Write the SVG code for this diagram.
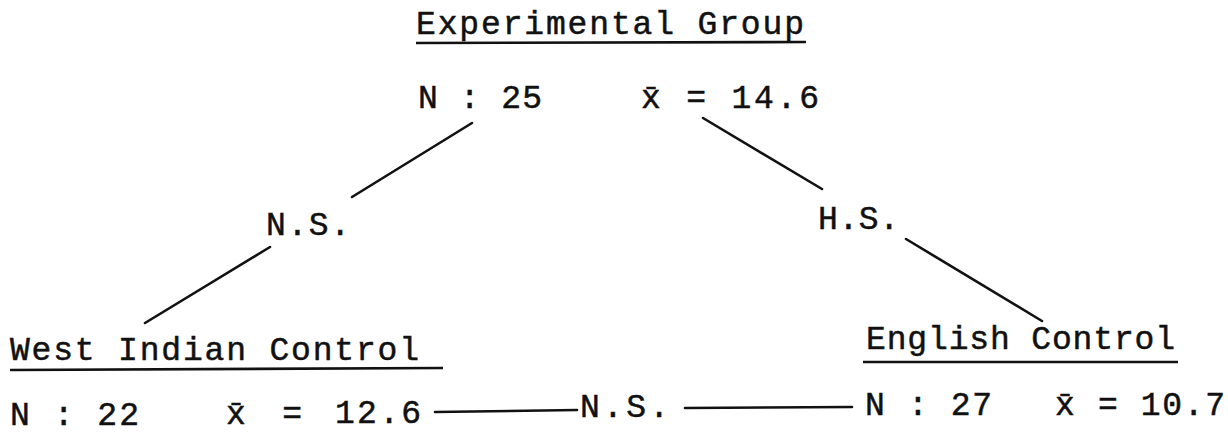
<svg xmlns="http://www.w3.org/2000/svg" width="1228" height="433" viewBox="0 0 1228 433">
  <style>
    .t { font-family: "Liberation Mono", "DejaVu Sans Mono", monospace; font-size: 33px; fill: #111; stroke: #111; stroke-width: 0.5; }
    .u { stroke: #111; stroke-width: 2.6; fill: none; }
    .c { stroke: #111; stroke-width: 2.6; fill: none; stroke-linecap: round; }
  </style>
  <rect width="1228" height="433" fill="#ffffff"/>

  <g id="node-experimental">
    <text class="t" x="416" y="34" textLength="388">Experimental Group</text>
    <line class="u" x1="416" y1="43" x2="806" y2="42"/>
    <text class="t" x="418" y="108" textLength="124">N : 25</text>
    <text class="t" x="641" y="108" textLength="178">x̄ = 14.6</text>
  </g>

  <g id="node-west-indian">
    <text class="t" x="10" y="360" textLength="409">West Indian Control</text>
    <line class="u" x1="10" y1="370" x2="443" y2="368"/>
    <text class="t" x="10" y="425" textLength="129">N : 22</text>
    <text class="t" x="226" y="424" textLength="76">x̄ =</text>
    <text class="t" x="335" y="423" textLength="86">12.6</text>
  </g>

  <g id="node-english">
    <text class="t" x="866" y="349" textLength="309">English Control</text>
    <line class="u" x1="863" y1="362" x2="1178" y2="362"/>
    <text class="t" x="865" y="415" textLength="127">N : 27</text>
    <text class="t" x="1055" y="415" textLength="170">x̄ = 10.7</text>
  </g>

  <g id="connectors">
    <line class="c" x1="472" y1="123" x2="352" y2="197"/>
    <line class="c" x1="270" y1="247" x2="145" y2="323"/>
    <text class="t" x="266" y="235" textLength="84">N.S.</text>

    <line class="c" x1="703" y1="118" x2="822" y2="189"/>
    <line class="c" x1="906" y1="239" x2="1042" y2="321"/>
    <text class="t" x="818" y="229" textLength="81">H.S.</text>

    <line class="c" x1="435" y1="412" x2="577" y2="410"/>
    <line class="c" x1="685" y1="408" x2="852" y2="407"/>
    <text class="t" x="580" y="417" textLength="89">N.S.</text>
  </g>
</svg>
